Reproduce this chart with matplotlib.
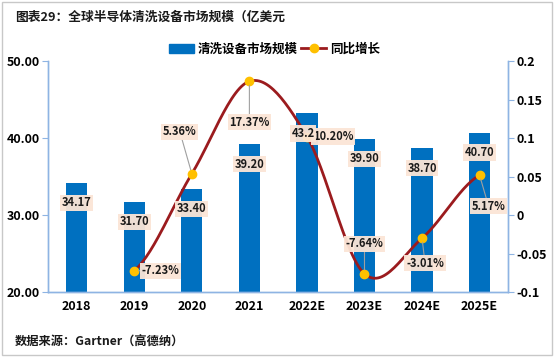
import numpy as np
import matplotlib
matplotlib.use("Agg")
import matplotlib.pyplot as plt
from matplotlib.patches import Rectangle, Patch
from matplotlib.lines import Line2D

plt.rcParams['font.family'] = ['Noto Sans CJK SC', 'DejaVu Sans']

categories = ['2018', '2019', '2020', '2021', '2022E', '2023E', '2024E', '2025E']
market_size = [34.17, 31.70, 33.40, 39.20, 43.2, 39.90, 38.70, 40.70]
size_labels = ['34.17', '31.70', '33.40', '39.20', '43.2', '39.90', '38.70', '40.70']
growth = [None, -0.0723, 0.0536, 0.1737, 0.1020, -0.0764, -0.0301, 0.0517]
growth_labels = [None, '-7.23%', '5.36%', '17.37%', '10.20%', '-7.64%', '-3.01%', '5.17%']
left_ticks = [20, 30, 40, 50]
left_ticklabels = ['20.00', '30.00', '40.00', '50.00']
right_ticks = [-0.1, -0.05, 0, 0.05, 0.1, 0.15, 0.2]
right_ticklabels = ['-0.1', '-0.05', '0', '0.05', '0.1', '0.15', '0.2']

BLUE = '#0070C0'
RED = '#9B1B1E'
GOLD = '#FFC000'
SPINE = '#8EB4E3'
BOXC = '#FBE5D6'

fig = plt.figure(figsize=(5.54, 3.57), dpi=100)
ax = fig.add_axes([0.0866, 0.182, 0.831, 0.647])
ax2 = ax.twinx()

x = np.arange(len(categories))
ax.bar(x, market_size, width=0.37, color=BLUE, zorder=2)
ax.set_ylim(20, 50)
ax.set_xlim(-0.5, len(categories) - 0.5)
ax.set_yticks(left_ticks)
ax.set_yticklabels(left_ticklabels)
ax.set_xticks(x)
ax.set_xticklabels(categories)
ax2.set_ylim(-0.1, 0.2)
ax2.set_yticks(right_ticks)
ax2.set_yticklabels(right_ticklabels)

for a in (ax, ax2):
    a.spines['top'].set_visible(False)
    for s in ['left', 'right', 'bottom']:
        a.spines[s].set_color(SPINE)
        a.spines[s].set_linewidth(1.0)
    for lab in a.get_yticklabels():
        lab.set_fontweight('bold')
        lab.set_fontsize(9)
ax.tick_params(axis='y', length=4, color=SPINE, pad=2)
ax2.tick_params(axis='y', length=4, color=SPINE, pad=2)
ax.tick_params(axis='x', length=0, pad=6)
for lab in ax.get_xticklabels():
    lab.set_fontweight('bold')
    lab.set_fontsize(9)

# smooth line (Catmull-Rom) through growth points
gx = np.array([i for i, g in enumerate(growth) if g is not None], dtype=float)
gy = np.array([g for g in growth if g is not None], dtype=float)
px = np.concatenate([[2 * gx[0] - gx[1]], gx, [2 * gx[-1] - gx[-2]]])
py = np.concatenate([[gy[0]], gy, [gy[-1]]])
sx, sy = [], []
t = np.linspace(0, 1, 30)
for i in range(1, len(px) - 2):
    p0, p1, p2, p3 = (np.array([px[j], py[j]]) for j in range(i - 1, i + 3))
    for tt in t:
        pt = 0.5 * ((2 * p1) + (-p0 + p2) * tt + (2 * p0 - 5 * p1 + 4 * p2 - p3) * tt ** 2
                    + (-p0 + 3 * p1 - 3 * p2 + p3) * tt ** 3)
        sx.append(pt[0]); sy.append(pt[1])
ax2.plot(sx, sy, color=RED, lw=2, zorder=3)
ax2.plot(gx, gy, 'o', color=GOLD, ms=6, zorder=4, mec=GOLD)

box = dict(boxstyle='square,pad=0.15', fc=BOXC, ec='none', alpha=0.95)

# growth labels offsets (pixels)
offs = {1: (26, 0), 2: (-12, 42), 3: (0, -41), 4: (26, 0), 5: (0, 30), 6: (3, -25), 7: (9, -31)}
for i, (g, s) in enumerate(zip(growth, growth_labels)):
    if g is None:
        continue
    dx, dy = offs[i]
    ax2.annotate(s, xy=(i, g), xytext=(dx, dy), textcoords='offset pixels',
                 ha='center', va='center', fontsize=8, fontweight='bold', color='#1a1a1a',
                 bbox=box, zorder=11,
                 arrowprops=dict(arrowstyle='-', color='#A0A0A0', lw=0.8, shrinkA=0, shrinkB=3))

ax.set_zorder(1)
ax2.set_zorder(2)
ax2.patch.set_visible(False)

# bar value labels (drawn on top layer)
for i, (v, s) in enumerate(zip(market_size, size_labels)):
    dx = -4 if i == 4 else 0
    ax2.annotate(s, xy=(x[i], v), xycoords=ax.transData, xytext=(dx, -20), textcoords='offset pixels',
                 ha='center', va='center', fontsize=8, fontweight='bold', color='#1a1a1a',
                 bbox=box, zorder=12 if i == 4 else 10, annotation_clip=False)

handles = [Patch(color=BLUE, label='清洗设备市场规模'),
           Line2D([0], [0], color=RED, lw=2, marker='o', mfc=GOLD, mec=GOLD, ms=6, label='同比增长')]
fig.legend(handles=handles, loc='center', bbox_to_anchor=(0.495, 0.862), ncol=2, frameon=False,
           prop={'size': 9, 'weight': 'bold'}, handlelength=2.0, columnspacing=0.3, handletextpad=0.3)

fig.text(0.027, 0.952, '图表29：全球半导体清洗设备市场规模（亿美元', fontsize=9.2, fontweight='bold',
         va='center', ha='left', color='#1a1a1a')
fig.text(0.027, 0.042, '数据来源：Gartner（高德纳）', fontsize=8.8, fontweight='bold',
         va='center', ha='left', color='#1a1a1a')

fig.patches.append(Rectangle((0.004, 0.006), 0.992, 0.988, transform=fig.transFigure,
                             fill=False, ec='#C8C8C8', lw=1.0))

fig.savefig('out.png', dpi=100)
